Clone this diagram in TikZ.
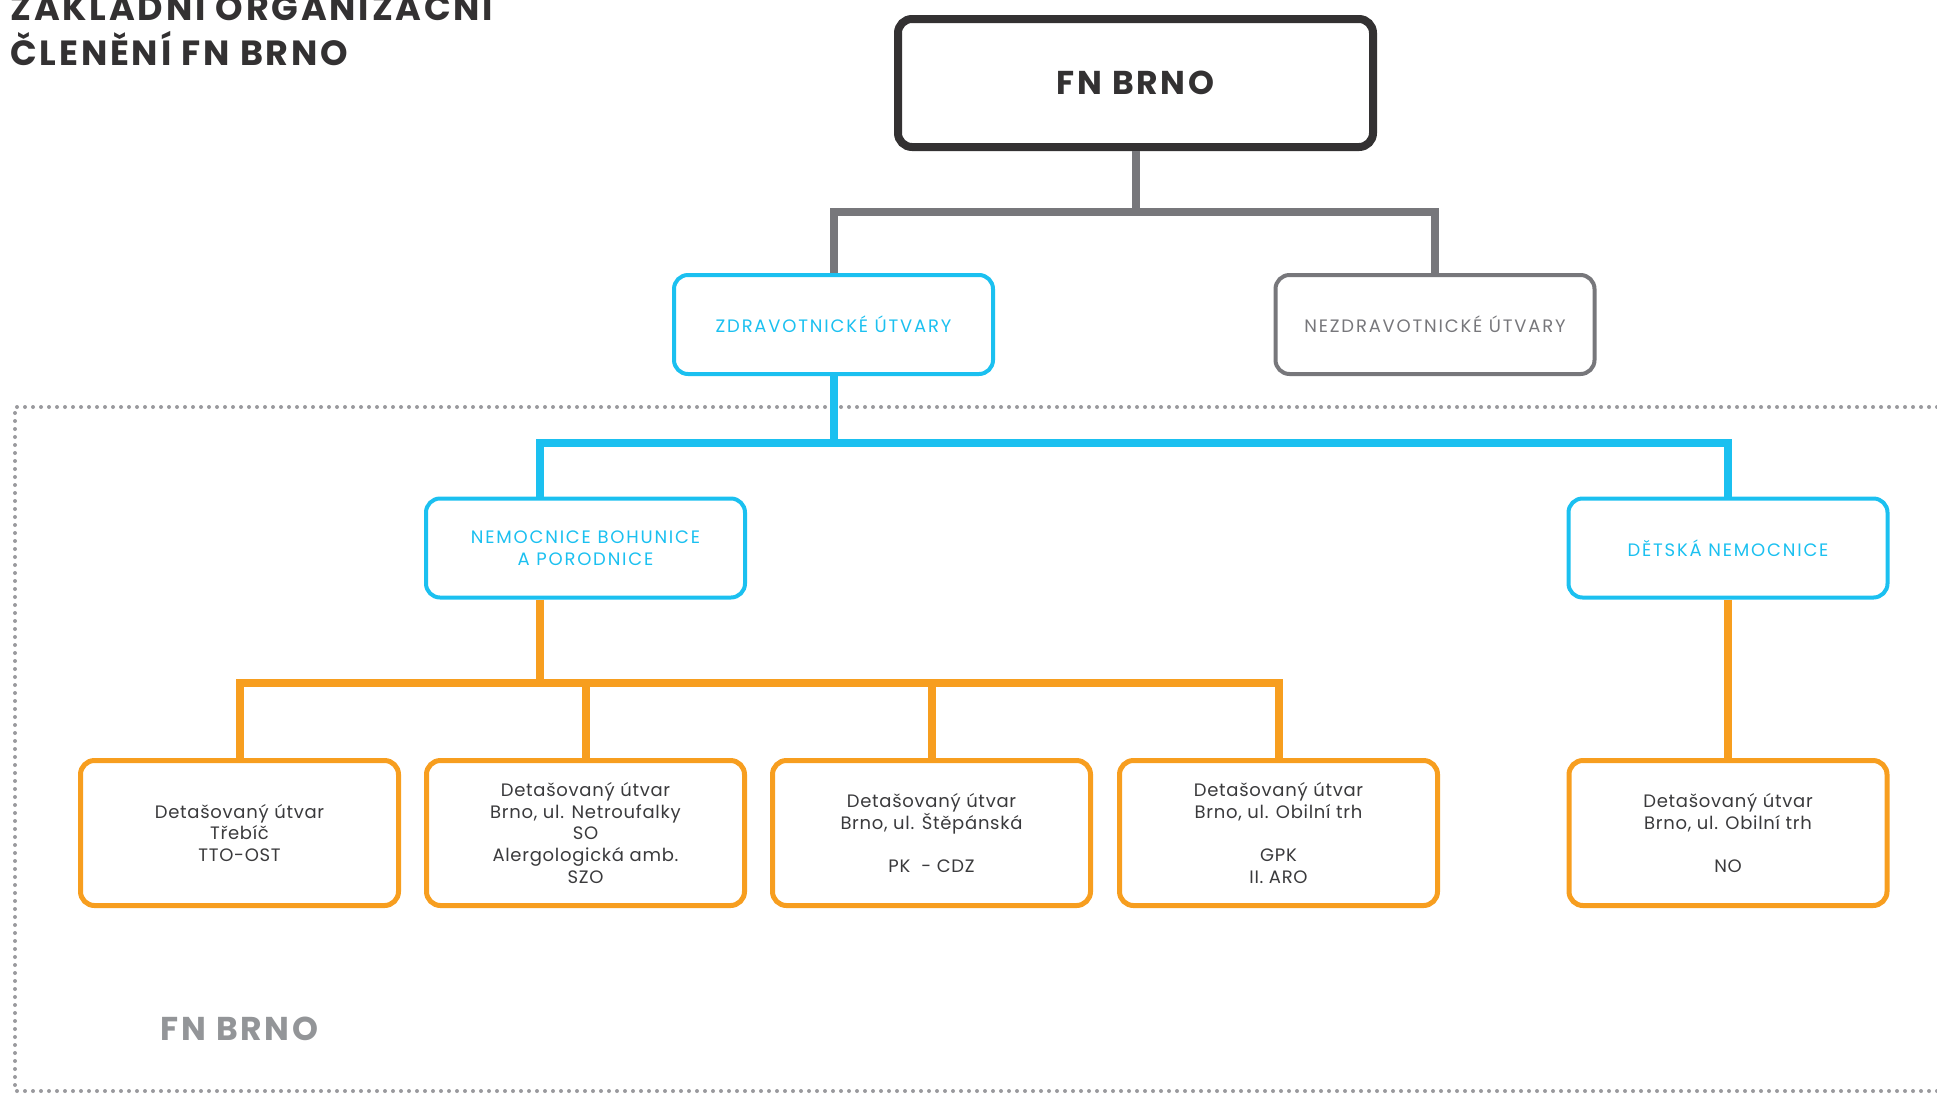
\documentclass[tikz,border=0pt]{standalone}
\usepackage{fontspec}
\setmainfont{Poppins}
\newfontfamily\headfont[LetterSpace=8]{Poppins}
\newfontfamily\capsfont[LetterSpace=10]{Poppins}
\newfontfamily\detfont[LetterSpace=4]{Poppins}
\usepackage{xcolor}
\definecolor{fnblue}{RGB}{27,192,240}
\definecolor{fnorange}{RGB}{247,158,31}
\definecolor{fngray}{RGB}{119,119,123}
\definecolor{fndark}{RGB}{51,49,50}
\definecolor{fntext}{RGB}{58,58,60}
\definecolor{fndots}{RGB}{154,154,158}
\definecolor{fnlight}{RGB}{147,149,152}

\begin{document}
\begin{tikzpicture}[x=0.5pt,y=-0.5pt,
  topbox/.style={draw=fndark,line width=4pt,rounded corners=7pt,minimum width=237.5pt,minimum height=64pt,font=\headfont\fontsize{16.5}{18}\selectfont\bfseries,text=fndark},
  bluebox/.style={draw=fnblue,line width=2pt,rounded corners=7pt,minimum width=159.5pt,minimum height=49.5pt,align=center,text=fnblue,font=\capsfont\fontsize{9}{10.8}\selectfont},
  graybox/.style={bluebox,draw=fngray,text=fngray},
  detbox/.style={draw=fnorange,line width=2.5pt,rounded corners=7pt,minimum width=159pt,minimum height=72.5pt,align=center,text=fntext,font=\detfont\fontsize{9}{10.8}\selectfont},
  grayline/.style={draw=fngray,line width=4pt},
  blueline/.style={draw=fnblue,line width=4pt},
  orline/.style={draw=fnorange,line width=4pt},
  dotline/.style={draw=fndots,line width=2pt,line cap=round,dash pattern=on 0pt off 4pt},
  heading/.style={anchor=base west,inner sep=0pt,font=\headfont\fontsize{17.5}{21}\selectfont\bfseries,text=fndark}]
                \useasboundingbox (0,0) rectangle (1937,1093);
                \draw[dotline] (1937,407) -- (15,407) -- (15,1091) -- (1937,1091);
                \node[heading] (title1) at (10,20) {ZÁKLADNÍ ORGANIZAČNÍ};
                \node[heading] (title2) at (10,65) {ČLENĚNÍ FN BRNO};
                \node[topbox] (fn) at (1135.5,83) {FN BRNO};
                \node[bluebox] (zdrav) at (833.5,324.5) {ZDRAVOTNICKÉ ÚTVARY};
                \node[graybox] (nezdrav) at (1435,324.5) {NEZDRAVOTNICKÉ ÚTVARY};
                \node[bluebox] (nemoc) at (585.5,548) {NEMOCNICE BOHUNICE\\A PORODNICE};
                \node[bluebox] (detska) at (1728,548) {DĚTSKÁ NEMOCNICE};
                \node[detbox] (det1) at (239.5,833) {Detašovaný útvar\\Třebíč\\TTO-OST};
                \node[detbox] (det2) at (585.5,833) {Detašovaný útvar\\Brno, ul. Netroufalky\\SO\\Alergologická amb.\\SZO};
                \node[detbox] (det3) at (931.5,833) {Detašovaný útvar\\Brno, ul. Štěpánská\\[10.8pt]PK\ \ - CDZ};
                \node[detbox] (det4) at (1278.5,833) {Detašovaný útvar\\Brno, ul. Obilní trh\\[10.8pt]GPK\\II. ARO};
                \node[detbox] (det5) at (1728,833) {Detašovaný útvar\\Brno, ul. Obilní trh\\[10.8pt]NO};
                \node[heading,anchor=base,text=fnlight,font=\headfont\fontsize{16.5}{18}\selectfont\bfseries] (fnlabel) at (239.5,1040) {FN BRNO};
                \coordinate (gbus) at (1135.5,212);
                \coordinate (bbus) at (0,443);
                \coordinate (obus) at (0,683);
                \coordinate (nstem) at ([xshift=-22.75pt]nemoc.north);
                \draw[grayline] (zdrav.north) |- (gbus) -| (nezdrav.north);
                \draw[grayline] (fn.south) -- (gbus);
                \draw[blueline] (zdrav.south) -- (zdrav.south |- bbus);
                \draw[blueline] (nstem) -- (nstem |- bbus) -- (detska.north |- bbus) -- (detska.north);
                \draw[orline] (nemoc.south -| nstem) -- (nstem |- obus);
                \draw[orline] (det1.north) -- (det1.north |- obus) -- (det4.north |- obus) -- (det4.north);
                \foreach \n in {det2,det3} \draw[orline] (\n.north) -- (\n.north |- obus);
                \draw[orline] (detska.south) -- (det5.north);
            \end{tikzpicture}
\end{document}
